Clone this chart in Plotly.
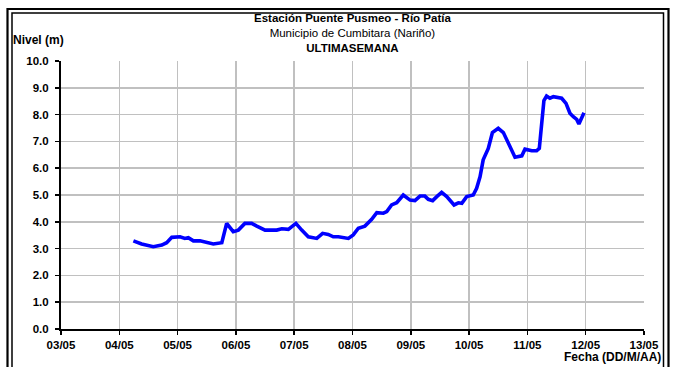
import pandas as pd
import plotly.graph_objects as go

# ---- data ----
start_date = "2023-05-03 00:00"
hours_since_start = [
    29.8, 33.2, 38.0, 41.5, 43.5, 45.6, 49.0, 51.0, 52.4, 54.5, 57.2, 62.7, 66.2,
    68.2, 70.9, 73.0, 75.7, 78.5, 80.6, 84.0, 88.8, 90.9, 93.6, 95.0, 96.7, 99.1,
    101.8, 105.3, 107.7, 110.0, 112.1, 114.2, 118.3, 120.3, 122.4, 125.1, 127.9,
    130.0, 132.7, 134.1, 136.1, 138.2, 140.9, 143.7, 145.7, 147.8, 149.8, 151.2,
    153.0, 154.7, 156.7, 158.8, 161.8, 163.6, 165.0, 167.0, 169.7, 171.1, 172.5,
    173.8, 175.9, 177.6, 180.0, 182.1, 184.1, 186.9, 189.7, 191.0, 193.8, 195.8,
    196.9, 197.9, 198.8, 199.9, 201.3, 202.7, 206.1, 207.9, 209.5, 210.9, 212.3,
    213.2, 214.4, 215.3,
]
nivel_m = [
    3.29, 3.17, 3.07, 3.13, 3.22, 3.42, 3.44, 3.38, 3.41, 3.29, 3.29, 3.17, 3.22,
    3.94, 3.63, 3.69, 3.94, 3.94, 3.84, 3.69, 3.69, 3.74, 3.72, 3.82, 3.94, 3.69,
    3.44, 3.38, 3.57, 3.53, 3.44, 3.44, 3.38, 3.51, 3.76, 3.84, 4.09, 4.34, 4.32,
    4.38, 4.63, 4.71, 5.00, 4.81, 4.79, 4.96, 4.96, 4.84, 4.79, 4.94, 5.10, 4.94,
    4.63, 4.71, 4.69, 4.94, 5.00, 5.25, 5.68, 6.31, 6.74, 7.33, 7.49, 7.33, 6.93,
    6.41, 6.46, 6.71, 6.65, 6.65, 6.74, 7.68, 8.52, 8.69, 8.61, 8.67, 8.61, 8.42,
    8.05, 7.92, 7.82, 7.65, 7.92, 8.07,
]
x_tick_dates = ["2023-05-03", "2023-05-04", "2023-05-05", "2023-05-06", "2023-05-07",
                "2023-05-08", "2023-05-09", "2023-05-10", "2023-05-11", "2023-05-12",
                "2023-05-13"]
x_tick_labels = ["03/05", "04/05", "05/05", "06/05", "07/05", "08/05", "09/05",
                 "10/05", "11/05", "12/05", "13/05"]
y_tick_values = [0, 1, 2, 3, 4, 5, 6, 7, 8, 9, 10]
y_tick_labels = ["0.0", "1.0", "2.0", "3.0", "4.0", "5.0", "6.0", "7.0", "8.0", "9.0", "10.0"]

title_lines = ["<b>Estación Puente Pusmeo - Río Patía</b>",
               "Municipio de Cumbitara (Nariño)",
               "<b>ULTIMASEMANA</b>"]

times = pd.Timestamp(start_date) + pd.to_timedelta(hours_since_start, unit="h")

FONT = "Liberation Sans, Arial, sans-serif"

fig = go.Figure()
fig.add_trace(go.Scatter(
    x=times, y=nivel_m, mode="lines",
    line=dict(color="#0000ff", width=3.6),
    hoverinfo="skip", showlegend=False,
))

fig.update_layout(
    width=673, height=367,
    margin=dict(l=61, r=29, t=61, b=38),
    paper_bgcolor="white", plot_bgcolor="white",
    font=dict(family=FONT, size=11, color="black"),
    showlegend=False,
)
fig.update_xaxes(
    range=[x_tick_dates[0], x_tick_dates[-1]],
    tickmode="array", tickvals=x_tick_dates, ticktext=x_tick_labels,
    tickfont=dict(family=FONT, size=11.5, color="black", weight="bold"),
    showgrid=True, gridcolor="#c0c0c0", gridwidth=1.5,
    ticks="outside", ticklen=4, tickcolor="black", tickwidth=1.5,
    showline=True, linecolor="black", linewidth=2,
    zeroline=False, fixedrange=True,
)
fig.update_yaxes(
    range=[0, 10],
    tickmode="array", tickvals=y_tick_values, ticktext=y_tick_labels,
    tickfont=dict(family=FONT, size=11.5, color="black", weight="bold"),
    ticklabelstandoff=4,
    showgrid=True, gridcolor="#c0c0c0", gridwidth=1.5,
    ticks="outside", ticklen=4, tickcolor="black", tickwidth=1.5,
    showline=True, linecolor="black", linewidth=2,
    zeroline=False, fixedrange=True,
)

def px_x(p):
    return (p - 61) / 583.0

def px_y(p):
    return (329 - p) / 268.0

# double frame around the chart
fig.add_shape(type="rect", xref="paper", yref="paper",
              x0=px_x(7.5), x1=px_x(668.5), y0=px_y(400), y1=px_y(9),
              line=dict(color="black", width=2.2), layer="above")
fig.add_shape(type="rect", xref="paper", yref="paper",
              x0=px_x(12), x1=px_x(663.5), y0=px_y(400), y1=px_y(13),
              line=dict(color="black", width=1.5), layer="above")

fig.add_annotation(text="<br>".join(title_lines),
                   xref="paper", yref="paper", x=0.5, y=px_y(33),
                   showarrow=False, font=dict(family=FONT, size=11.5),
                   yanchor="middle", align="center", borderpad=0)
fig.add_annotation(text="<b>Nivel (m)</b>",
                   xref="paper", yref="paper", x=px_x(11), y=px_y(40),
                   xanchor="left", yanchor="middle",
                   showarrow=False, font=dict(family=FONT, size=12))
fig.add_annotation(text="<b>Fecha (DD/M/AA)</b>",
                   xref="paper", yref="paper", x=px_x(663), y=px_y(357),
                   xanchor="right", yanchor="middle",
                   showarrow=False, font=dict(family=FONT, size=12))

fig.write_html(
    "out.html",
    config={"displayModeBar": False, "staticPlot": True},
    post_script="document.body.style.margin='0';document.body.style.padding='0';document.body.style.overflow='hidden';",
)
